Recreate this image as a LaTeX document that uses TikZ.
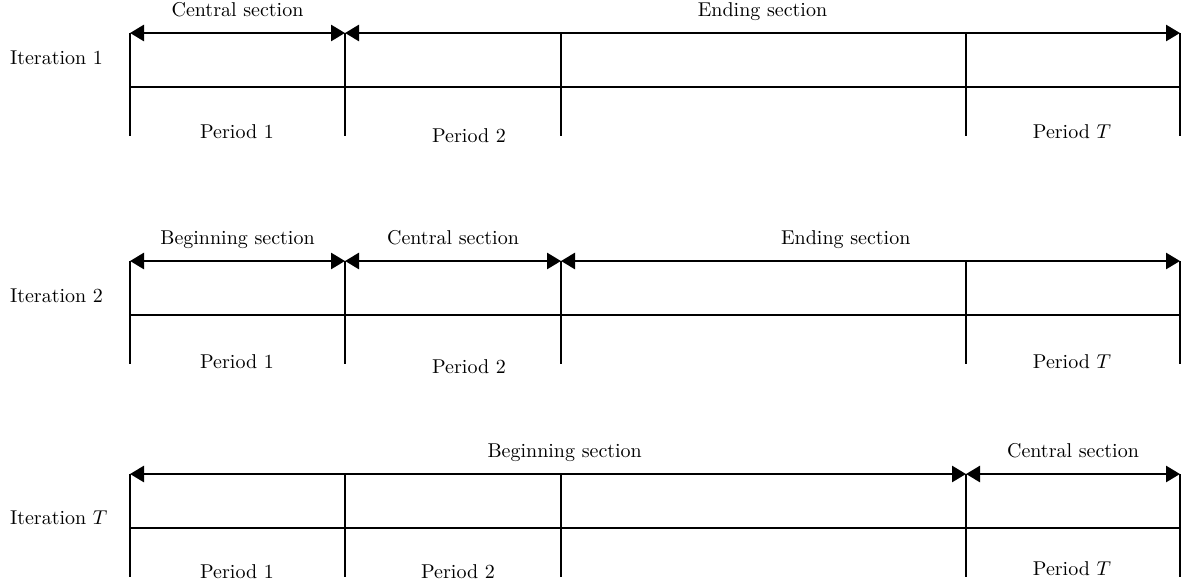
\documentclass[tikz,border=0pt]{standalone}
\usepackage{amsmath}
\usepackage{tikz}
\usetikzlibrary{arrows.meta,calc,positioning}
\tikzset{%
	span/.style    = {{Triangle[length=7pt,width=8pt]}-{Triangle[length=7pt,width=8pt]}, line width=1.3pt}, % Section arrow
	stem/.style    = {line width=1.1pt}, % Period border
	base/.style    = {line width=1.1pt}, % Time line
	sectext/.style = {above=2.5pt, text height=7pt, text depth=2pt}, % Section name
}

\begin{document}
\begin{tikzpicture}[x=0.5pt,y=-0.5pt]
		\useasboundingbox (0,0) rectangle (1184,583);
		% borders of the periods in every iteration
		\foreach \r/\dy in {1/0,2/228,3/441} {
			\foreach \i/\x in {0/130,1/345,2/561,3/966,4/1180} {
				\coordinate (t\r\i) at (\x,33+\dy);
				\coordinate (b\r\i) at (\x,136+\dy);
			}
			\coordinate (l\r) at (130,87+\dy);
			\coordinate (r\r) at (1180,87+\dy);
		}
		\foreach \r in {1,2,3} {
			\foreach \i in {0,...,4} \draw[stem] (t\r\i) -- (b\r\i);
			\draw[base] (l\r) -- (r\r);
		}
		\node[anchor=west] (it1) at (3,58) {Iteration 1};
		\node[anchor=west] (it2) at (3,296) {Iteration 2};
		\node[anchor=west] (it3) at (3,518) {Iteration $T$};
		\draw[span] (t10) -- node[sectext] {Central section} (t11);
		\draw[span] (t11) -- node[sectext] {Ending section} (t14);
		\draw[span] (t20) -- node[sectext] {Beginning section} (t21);
		\draw[span] (t21) -- node[sectext] {Central section} (t22);
		\draw[span] (t22) -- node[sectext,pos=0.46] {Ending section} (t24);
		\draw[span] (t30) -- node[sectext,pos=0.52] {Beginning section} (t33);
		\draw[span] (t33) -- node[sectext] {Central section} (t34);
		\node (p11) at (237,132) {Period 1};
		\node (p12) at (469,136) {Period 2};
		\node (p1t) at (1072,132) {Period $T$};
		\node (p21) at (237,362) {Period 1};
		\node (p22) at (469,367) {Period 2};
		\node (p2t) at (1072,362) {Period $T$};
		\node (p31) at (237,572) {Period 1};
		\node (p32) at (458,572) {Period 2};
		\node (p3t) at (1072,569) {Period $T$};
\end{tikzpicture}
\end{document}
